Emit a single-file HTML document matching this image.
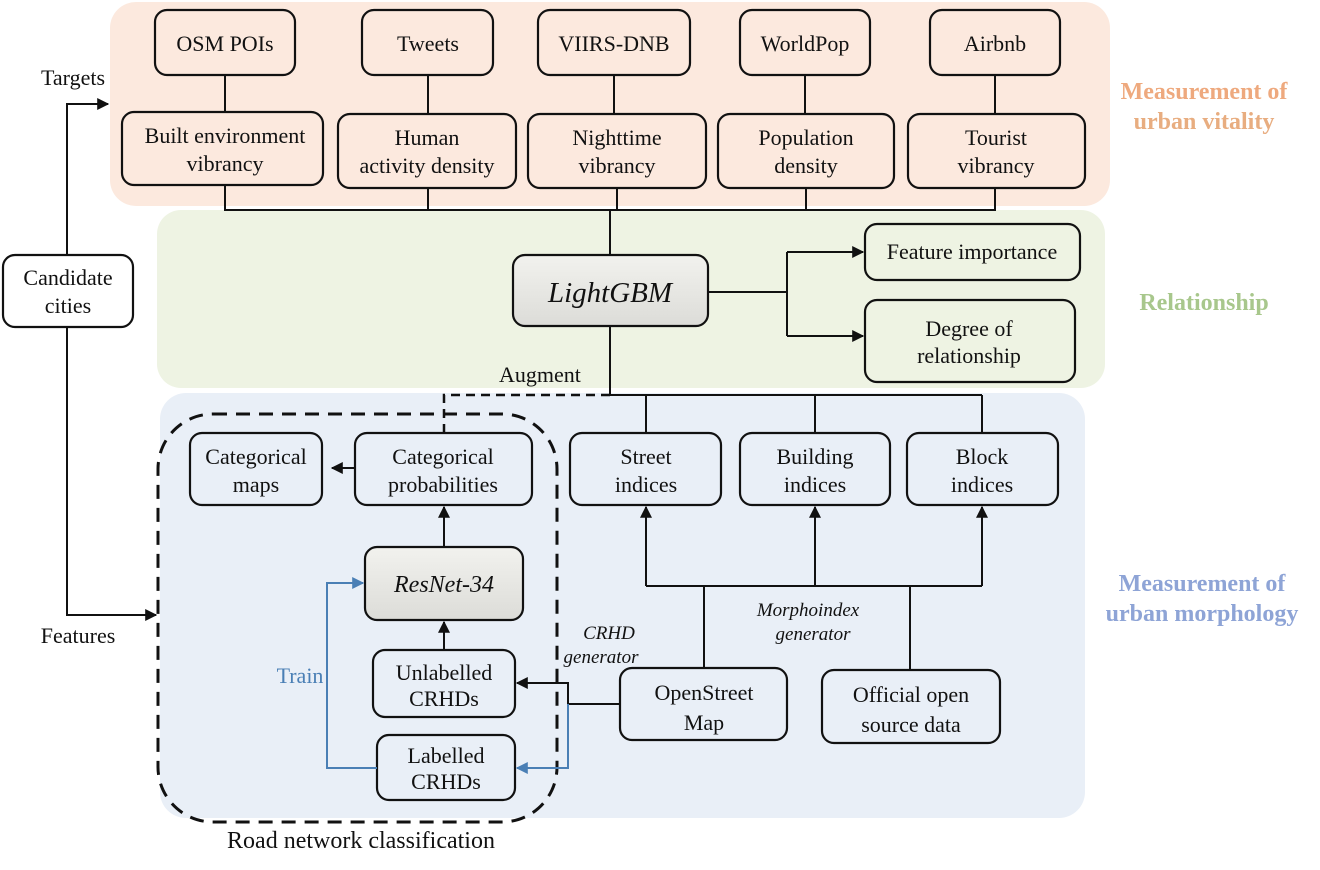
<!DOCTYPE html>
<html><head><meta charset="utf-8"><style>
html,body{margin:0;padding:0;background:#fff;}
svg{display:block;}
text{font-family:"Liberation Serif",serif;fill:#111;}
.b{fill:none;stroke:#111;stroke-width:2.2;}
.l{stroke:#111;stroke-width:2;fill:none;}
.t{font-size:22px;text-anchor:middle;}
</style></head><body>
<svg width="1320" height="870" viewBox="0 0 1320 870" xmlns="http://www.w3.org/2000/svg">
<defs>
<marker id="a" viewBox="0 0 10 10" refX="9" refY="5" markerWidth="6" markerHeight="6" orient="auto"><path d="M0,0 L10,5 L0,10 z" fill="#111"/></marker>
<marker id="ab" viewBox="0 0 10 10" refX="9" refY="5" markerWidth="6" markerHeight="6" orient="auto"><path d="M0,0 L10,5 L0,10 z" fill="#4a7fb5"/></marker>
<linearGradient id="g" x1="0" y1="0" x2="0" y2="1"><stop offset="0" stop-color="#f2f2ee"/><stop offset="1" stop-color="#dcdcd8"/></linearGradient>
</defs>
<rect x="110" y="2" width="1000" height="204" rx="26" fill="#fce9de"/>
<rect x="157" y="210" width="948" height="178" rx="24" fill="#eef3e3"/>
<rect x="160" y="393" width="925" height="425" rx="26" fill="#e9eff7"/>

<g>
<rect class="b" x="155" y="10" width="140" height="65" rx="12"/><text class="t" x="225" y="51">OSM POIs</text>
<rect class="b" x="362" y="10" width="131" height="65" rx="12"/><text class="t" x="428" y="51">Tweets</text>
<rect class="b" x="538" y="10" width="152" height="65" rx="12"/><text class="t" x="614" y="51">VIIRS-DNB</text>
<rect class="b" x="740" y="10" width="130" height="65" rx="12"/><text class="t" x="805" y="51">WorldPop</text>
<rect class="b" x="930" y="10" width="130" height="65" rx="12"/><text class="t" x="995" y="51">Airbnb</text>
</g>
<line class="l" x1="225" y1="75" x2="225" y2="112"/>
<line class="l" x1="428" y1="75" x2="428" y2="114"/>
<line class="l" x1="614" y1="75" x2="614" y2="114"/>
<line class="l" x1="805" y1="75" x2="805" y2="114"/>
<line class="l" x1="995" y1="75" x2="995" y2="114"/>
<rect class="b" x="122" y="112" width="201" height="73" rx="12"/><text class="t" x="225" y="143">Built environment</text><text class="t" x="225" y="171">vibrancy</text>
<rect class="b" x="338" y="114" width="178" height="74" rx="12"/><text class="t" x="427" y="145">Human</text><text class="t" x="427" y="173">activity density</text>
<rect class="b" x="528" y="114" width="178" height="74" rx="12"/><text class="t" x="617" y="145">Nighttime</text><text class="t" x="617" y="173">vibrancy</text>
<rect class="b" x="718" y="114" width="176" height="74" rx="12"/><text class="t" x="806" y="145">Population</text><text class="t" x="806" y="173">density</text>
<rect class="b" x="908" y="114" width="177" height="74" rx="12"/><text class="t" x="996" y="145">Tourist</text><text class="t" x="996" y="173">vibrancy</text>
<path class="l" d="M225,185 V210 H995 V188 M428,188 V210 M617,188 V210 M806,188 V210"/>
<line class="l" x1="610" y1="210" x2="610" y2="255"/>

<rect x="513" y="255" width="195" height="71" rx="12" fill="url(#g)" stroke="#111" stroke-width="2.2"/>
<text x="610" y="302" style="font-size:29px;font-style:italic;text-anchor:middle">LightGBM</text>
<path class="l" d="M708,292 H787 M787,252 V336"/>
<line class="l" x1="787" y1="252" x2="863" y2="252" marker-end="url(#a)"/>
<line class="l" x1="787" y1="336" x2="863" y2="336" marker-end="url(#a)"/>
<rect class="b" x="865" y="224" width="215" height="56" rx="12"/><text class="t" x="972" y="259">Feature importance</text>
<rect class="b" x="865" y="300" width="210" height="82" rx="12"/><text class="t" x="969" y="336">Degree of</text><text class="t" x="969" y="363">relationship</text>
<line class="l" x1="610" y1="326" x2="610" y2="395"/>
<text class="t" x="540" y="382">Augment</text>
<path class="l" d="M610,395 H982 M646,395 V433 M815,395 V433 M982,395 V433"/>
<path d="M610,395 H444 V433" fill="none" stroke="#111" stroke-width="2.5" stroke-dasharray="9,6"/>

<g style="font-size:24px;font-weight:bold;text-anchor:middle">
<text x="1204" y="99" style="fill:#eea97e">Measurement of</text>
<text x="1204" y="129" style="fill:#e8ad80">urban vitality</text>
<text x="1204" y="310" style="fill:#a8c78c">Relationship</text>
<text x="1202" y="591" style="fill:#8ea4d6">Measurement of</text>
<text x="1202" y="621" style="fill:#8ea4d6">urban morphology</text>
</g>

<rect class="b" x="3" y="255" width="130" height="72" rx="12"/><text class="t" x="68" y="285">Candidate</text><text class="t" x="68" y="313">cities</text>
<path class="l" d="M67,255 V104 H108" marker-end="url(#a)"/>
<path class="l" d="M67,327 V615 H156" marker-end="url(#a)"/>
<text class="t" x="73" y="85">Targets</text>
<text class="t" x="78" y="643">Features</text>

<rect x="158" y="414" width="399" height="408" rx="55" fill="none" stroke="#111" stroke-width="3" stroke-dasharray="14,9"/>
<text x="361" y="848" style="font-size:24px;text-anchor:middle">Road network classification</text>

<rect class="b" x="190" y="433" width="132" height="72" rx="12"/><text class="t" x="256" y="464">Categorical</text><text class="t" x="256" y="492">maps</text>
<rect class="b" x="355" y="433" width="177" height="72" rx="12"/><text class="t" x="443" y="464">Categorical</text><text class="t" x="443" y="492">probabilities</text>
<line class="l" x1="355" y1="468" x2="332" y2="468" marker-end="url(#a)"/>
<rect x="365" y="547" width="158" height="73" rx="12" fill="url(#g)" stroke="#111" stroke-width="2.2"/>
<text x="444" y="592" style="font-size:24px;font-style:italic;text-anchor:middle">ResNet-34</text>
<line class="l" x1="444" y1="547" x2="444" y2="507" marker-end="url(#a)"/>
<rect class="b" x="373" y="650" width="142" height="67" rx="12"/><text class="t" x="444" y="680">Unlabelled</text><text class="t" x="444" y="706">CRHDs</text>
<line class="l" x1="444" y1="650" x2="444" y2="622" marker-end="url(#a)"/>
<rect class="b" x="377" y="735" width="138" height="65" rx="12"/><text class="t" x="446" y="763">Labelled</text><text class="t" x="446" y="789">CRHDs</text>
<path d="M377,768 H327 V583 H363" fill="none" stroke="#4a7fb5" stroke-width="2" marker-end="url(#ab)"/>
<text x="300" y="683" style="font-size:22px;text-anchor:middle;fill:#4a7fb5">Train</text>
<path class="l" d="M620,704 H568 V683 H517" marker-end="url(#a)"/>
<path d="M568,704 V768 H517" fill="none" stroke="#4a7fb5" stroke-width="2" marker-end="url(#ab)"/>
<text x="609" y="639" style="font-size:19px;font-style:italic;text-anchor:middle">CRHD</text>
<text x="601" y="663" style="font-size:19px;font-style:italic;text-anchor:middle">generator</text>

<rect class="b" x="570" y="433" width="151" height="72" rx="12"/><text class="t" x="646" y="464">Street</text><text class="t" x="646" y="492">indices</text>
<rect class="b" x="740" y="433" width="150" height="72" rx="12"/><text class="t" x="815" y="464">Building</text><text class="t" x="815" y="492">indices</text>
<rect class="b" x="907" y="433" width="151" height="72" rx="12"/><text class="t" x="982" y="464">Block</text><text class="t" x="982" y="492">indices</text>
<path class="l" d="M646,586 H982 M704,586 V668 M910,586 V670"/>
<line class="l" x1="646" y1="586" x2="646" y2="507" marker-end="url(#a)"/>
<line class="l" x1="815" y1="586" x2="815" y2="507" marker-end="url(#a)"/>
<line class="l" x1="982" y1="586" x2="982" y2="507" marker-end="url(#a)"/>
<text x="808" y="616" style="font-size:19px;font-style:italic;text-anchor:middle">Morphoindex</text>
<text x="813" y="640" style="font-size:19px;font-style:italic;text-anchor:middle">generator</text>
<rect class="b" x="620" y="668" width="167" height="72" rx="12"/><text class="t" x="704" y="700">OpenStreet</text><text class="t" x="704" y="730">Map</text>
<rect class="b" x="822" y="670" width="178" height="73" rx="12"/><text class="t" x="911" y="702">Official open</text><text class="t" x="911" y="732">source data</text>
</svg>
</body></html>
